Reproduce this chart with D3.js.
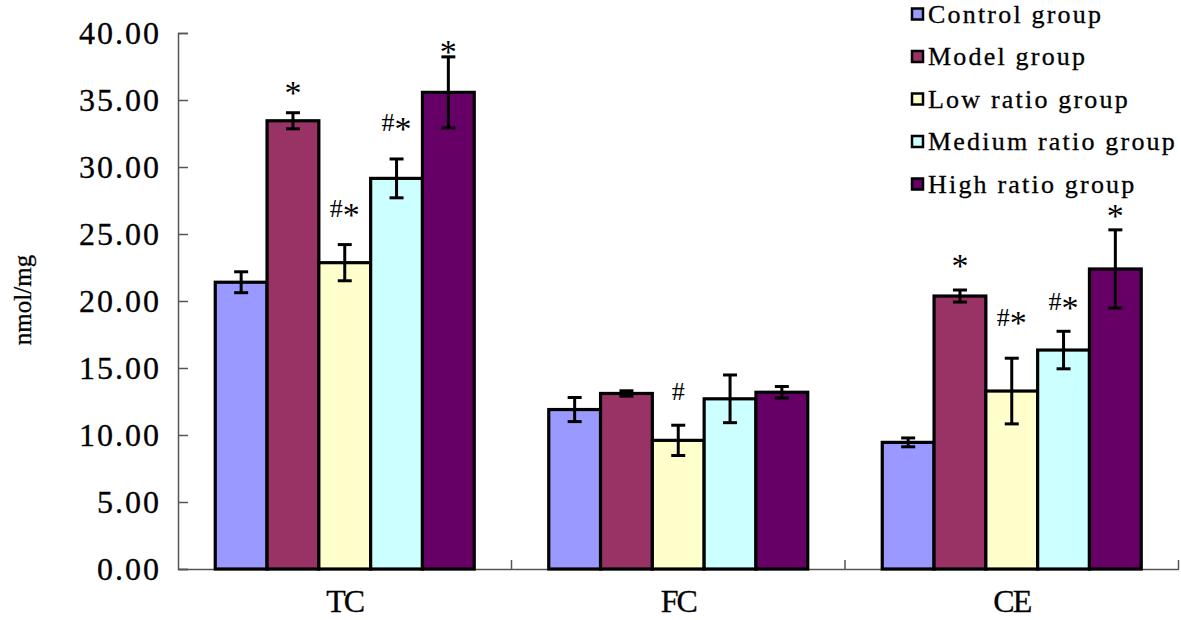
<!DOCTYPE html>
<html>
<head>
<meta charset="utf-8">
<script src="https://cdn.jsdelivr.net/npm/d3@7"></script>
<style>
  html, body { margin: 0; padding: 0; background: #fff; }
  svg { display: block; }
  text { font-family: "Liberation Serif", "Times New Roman", serif; fill: #000; }
</style>
</head>
<body>
<svg id="chart" width="1181" height="620"></svg>
<script>
// ---- data ----
const categories = ["TC", "FC", "CE"];
const groups = ["Control group", "Model group", "Low ratio group", "Medium ratio group", "High ratio group"];
const colors = ["#9999FF", "#993366", "#FFFFCC", "#CCFFFF", "#660066"];
const controlMean = [21.4, 11.9, 9.45];
const modelMean   = [33.45, 13.1, 20.37];
const lowMean     = [22.86, 9.6, 13.28];
const mediumMean  = [29.15, 12.7, 16.34];
const highMean    = [35.57, 13.19, 22.39];
const controlErr  = [0.78, 0.9, 0.33];
const modelErr    = [0.6, 0.2, 0.45];
const lowErr      = [1.35, 1.13, 2.45];
const mediumErr   = [1.45, 1.78, 1.4];
const highErr     = [2.65, 0.43, 2.92];
// significance marks per category, per group, with the level (nmol/mg) at which each mark sits
const sigMarks = [
  ["", "*", "#*", "#*", "*"],
  ["", "", "#", "", ""],
  ["", "*", "#*", "#*", "*"]
];
const sigLevel = [
  [0, 36.0, 26.9, 33.3, 39.05],
  [0, 0, 13.25, 0, 0],
  [0, 23.06, 18.8, 19.95, 26.8]
];
const yTicks = [0, 5, 10, 15, 20, 25, 30, 35, 40];
const yLabel = "nmol/mg";

const means = [controlMean, modelMean, lowMean, mediumMean, highMean];
const errs = [controlErr, modelErr, lowErr, mediumErr, highErr];

// ---- layout ----
const svg = d3.select("#chart");
const mLeft = 178, mRight = 1178.5, mTop = 33, mBottom = 569;

const y = d3.scaleLinear().domain([0, 40]).range([mBottom, mTop]);
const x0 = d3.scaleBand().domain(categories).range([mLeft, mRight])
  .paddingInner(0.2234).paddingOuter(0.1117);
const x1 = d3.scaleBand().domain(groups).range([0, x0.bandwidth()]).padding(0);

// y axis
const yAxis = d3.axisLeft(y).tickValues(yTicks).tickFormat(d3.format(".2f"))
  .tickSize(-10).tickPadding(17);
const gy = svg.append("g").attr("transform", `translate(${mLeft},0)`).call(yAxis);
gy.select(".domain").attr("stroke", "#555").attr("stroke-width", 1.5);
gy.selectAll(".tick line").attr("stroke", "#555").attr("stroke-width", 1.5);
gy.selectAll(".tick text").attr("font-size", 32).attr("letter-spacing", 2)
  .attr("font-family", "Liberation Serif").attr("fill", "#000")
  .attr("stroke", "#000").attr("stroke-width", 0.3);

// x axis
const xAxis = d3.axisBottom(x0).tickSize(0).tickPadding(20);
const gx = svg.append("g").attr("transform", `translate(0,${mBottom})`).call(xAxis);
gx.select(".domain").attr("stroke", "#555").attr("stroke-width", 1.5);
gx.selectAll(".tick text").attr("font-size", 32).attr("letter-spacing", -2)
  .attr("font-family", "Liberation Serif").attr("fill", "#000")
  .attr("stroke", "#000").attr("stroke-width", 0.3);

// boundary ticks between categories (inward)
const step = x0.step();
const boundaries = categories.map(c => x0(c) - x0.paddingOuter() * step + step);
svg.append("g").selectAll("line").data(boundaries).join("line")
  .attr("x1", d => d).attr("x2", d => d)
  .attr("y1", mBottom).attr("y2", mBottom - 9)
  .attr("stroke", "#555").attr("stroke-width", 1.5);

// bars
const rows = [];
categories.forEach((c, ci) => {
  groups.forEach((g, gi) => {
    rows.push({ c, ci, g, gi, v: means[gi][ci], e: errs[gi][ci],
      mark: sigMarks[ci][gi], level: sigLevel[ci][gi] });
  });
});

svg.append("g").selectAll("rect").data(rows).join("rect")
  .attr("x", d => x0(d.c) + x1(d.g))
  .attr("y", d => y(d.v))
  .attr("width", x1.bandwidth())
  .attr("height", d => y(0) - y(d.v))
  .attr("fill", d => colors[d.gi])
  .attr("stroke", "#000").attr("stroke-width", 3.2);

// error bars
const eg = svg.append("g").attr("stroke", "#000").attr("stroke-width", 3);
const cx = d => x0(d.c) + x1(d.g) + x1.bandwidth() / 2;
eg.selectAll("line.v").data(rows).join("line").attr("class", "v")
  .attr("x1", cx).attr("x2", cx)
  .attr("y1", d => y(d.v + d.e)).attr("y2", d => y(d.v - d.e));
eg.selectAll("line.t").data(rows).join("line").attr("class", "t")
  .attr("x1", d => cx(d) - 7).attr("x2", d => cx(d) + 7)
  .attr("y1", d => y(d.v + d.e)).attr("y2", d => y(d.v + d.e));
eg.selectAll("line.b").data(rows).join("line").attr("class", "b")
  .attr("x1", d => cx(d) - 7).attr("x2", d => cx(d) + 7)
  .attr("y1", d => y(d.v - d.e)).attr("y2", d => y(d.v - d.e));

// significance marks
const marks = svg.append("g").selectAll("text")
  .data(rows.filter(d => d.mark !== "")).join("text")
  .attr("x", cx).attr("y", d => y(d.level) + 8.5)
  .attr("text-anchor", "middle");
marks.each(function(d) {
  const t = d3.select(this);
  d.mark.split("").forEach(ch => {
    if (ch === "*") t.append("tspan").attr("font-size", 34).attr("dy", 8.5).text(ch);
    else t.append("tspan").attr("font-size", 26).text(ch);
  });
});

// y label
svg.append("text")
  .attr("transform", "translate(31,300) rotate(-90)")
  .attr("text-anchor", "middle").attr("font-size", 25)
  .attr("stroke", "#000").attr("stroke-width", 0.3)
  .text(yLabel);

// legend
const lg = svg.append("g").attr("transform", "translate(911,0)");
const li = lg.selectAll("g").data(groups).join("g")
  .attr("transform", (d, i) => `translate(0,${14 + i * 42.5})`);
li.append("rect").attr("x", 1).attr("y", -5.5).attr("width", 11).attr("height", 11)
  .attr("fill", (d, i) => colors[i]).attr("stroke", "#000").attr("stroke-width", 2.5);
li.append("text").attr("x", 17).attr("y", 8.5)
  .attr("font-size", 26).attr("letter-spacing", 2.2)
  .attr("stroke", "#000").attr("stroke-width", 0.3).text(d => d);
</script>
</body>
</html>
